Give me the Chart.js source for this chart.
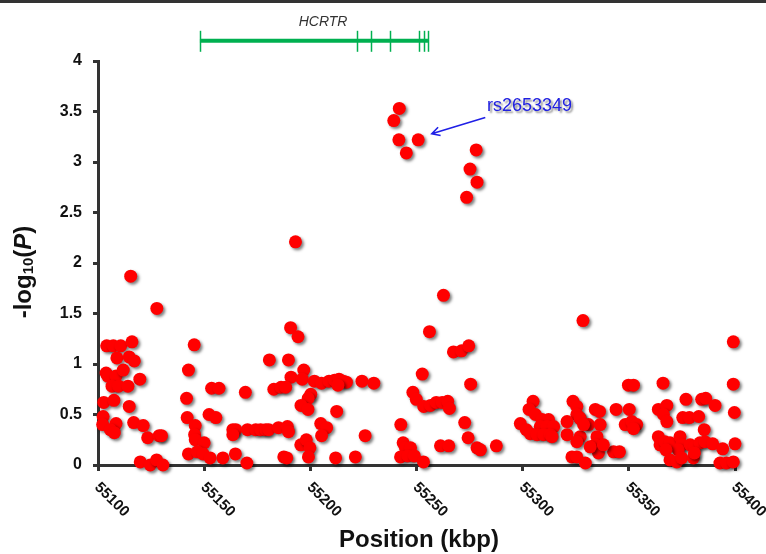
<!DOCTYPE html>
<html>
<head>
<meta charset="utf-8">
<script src="https://cdn.jsdelivr.net/npm/chart.js@4"></script>
<style>
  html, body { margin: 0; padding: 0; background: #fff; }
  #wrap { width: 766px; height: 554px; position: relative; }
</style>
</head>
<body>
<div id="wrap"><canvas id="assocChart" width="766" height="554"></canvas></div>
<script>
// 位置 (kbp)
const positionKbp = [
  55115.4, 55127.7, 55104.1, 55107.2, 55110.7, 55116.0, 55108.9, 55114.7, 55117.1, 55103.8,
  55104.6, 55108.5, 55111.9, 55119.7, 55106.6, 55109.7, 55114.1, 55102.7, 55107.5, 55114.7,
  55102.4, 55102.2, 55108.5, 55105.8, 55107.7, 55116.8, 55121.3, 55123.4, 55128.8, 55129.9,
  55119.9, 55124.6, 55127.6, 55130.6, 55145.3, 55142.6, 55141.7, 55142.0, 55145.8, 55145.5,
  55145.8, 55150.0, 55142.6, 55146.8, 55149.5, 55152.8, 55153.5, 55157.0, 55152.3, 55155.5,
  55193.0, 55190.7, 55194.2, 55180.7, 55189.7, 55196.9, 55190.9, 55196.2, 55169.4, 55182.8,
  55186.2, 55188.4, 55201.9, 55205.3, 55208.8, 55211.4, 55213.5, 55200.2, 55199.0, 55195.6,
  55198.9, 55212.4, 55163.5, 55164.9, 55163.5, 55170.4, 55174.3, 55176.6, 55179.0, 55180.4,
  55185.0, 55189.2, 55189.7, 55204.9, 55207.7, 55205.3, 55195.5, 55198.1, 55199.8, 55199.1,
  55158.8, 55164.7, 55170.1, 55187.5, 55188.9, 55211.9,
  55241.9, 55239.3, 55241.7, 55250.8, 55245.2, 55278.1, 55275.2, 55278.5, 55273.6, 55262.7,
  55256.1, 55267.4, 55271.2, 55274.6, 55252.7, 55275.5, 55215.5, 55217.0, 55213.0, 55224.3,
  55229.9, 55248.3, 55249.9, 55253.4, 55256.6, 55259.3, 55262.1, 55264.7, 55265.5, 55272.7,
  55274.3, 55242.6, 55225.8, 55243.7, 55244.8, 55247.2, 55242.5, 55245.9, 55249.0, 55253.3,
  55261.3, 55265.2, 55278.5, 55280.1, 55221.2, 55287.6,
  55328.4, 55399.2, 55349.8, 55352.2, 55366.1, 55399.2, 55304.9, 55323.7, 55325.5, 55376.9,
  55384.3, 55386.2, 55390.6, 55399.7, 55303.0, 55306.0, 55325.5, 55326.8, 55334.2, 55336.2,
  55344.0, 55350.2, 55363.9, 55367.9, 55366.3, 55375.4, 55378.5, 55382.9, 55367.9, 55298.9,
  55301.7, 55309.1, 55312.2, 55308.3, 55311.5, 55314.6, 55303.6, 55306.8, 55309.9, 55313.0,
  55313.8, 55320.9, 55327.1, 55331.0, 55336.5, 55348.3, 55351.4, 55353.7, 55352.2, 55385.5,
  55320.9, 55327.1, 55325.5, 55335.0, 55334.2, 55335.7, 55331.8, 55363.9, 55364.7, 55367.0,
  55369.4, 55374.1, 55374.9, 55373.3, 55378.9, 55380.9, 55383.5, 55385.9, 55389.5, 55394.2,
  55400.0, 55367.5, 55369.4, 55372.6, 55374.9, 55380.4, 55380.9, 55392.9, 55396.0, 55399.2,
  55342.8, 55345.6, 55323.2, 55325.5, 55329.5, 55328.7, 55338.0
];
// -log10(P)
const negLogP = [
  1.87, 1.55, 1.18, 1.18, 1.18, 1.22, 1.06, 1.07, 1.03, 0.91,
  0.88, 0.88, 0.94, 0.85, 0.78, 0.78, 0.78, 0.62, 0.64, 0.58,
  0.48, 0.40, 0.41, 0.35, 0.32, 0.42, 0.39, 0.27, 0.29, 0.29,
  0.03, 0.00, 0.05, 0.00, 1.19, 0.94, 0.66, 0.47, 0.39, 0.30,
  0.25, 0.22, 0.11, 0.13, 0.11, 0.07, 0.76, 0.76, 0.50, 0.47,
  2.21, 1.36, 1.27, 1.04, 1.04, 0.94, 0.87, 0.85, 0.72, 0.75,
  0.77, 0.77, 0.83, 0.81, 0.83, 0.84, 0.85, 0.70, 0.66, 0.59,
  0.55, 0.53, 0.35, 0.35, 0.30, 0.35, 0.35, 0.35, 0.35, 0.35,
  0.37, 0.38, 0.33, 0.41, 0.37, 0.29, 0.20, 0.25, 0.17, 0.08,
  0.07, 0.11, 0.02, 0.08, 0.07, 0.07,
  3.53, 3.41, 3.22, 3.22, 3.09, 3.12, 2.93, 2.80, 2.65, 1.68,
  1.32, 1.12, 1.13, 1.18, 0.90, 0.80, 0.83, 0.82, 0.79, 0.83,
  0.81, 0.72, 0.65, 0.58, 0.59, 0.62, 0.62, 0.63, 0.56, 0.42,
  0.27, 0.40, 0.29, 0.22, 0.17, 0.17, 0.08, 0.09, 0.09, 0.03,
  0.19, 0.19, 0.17, 0.15, 0.08, 0.19,
  1.43, 1.22, 0.79, 0.79, 0.81, 0.80, 0.63, 0.63, 0.58, 0.65,
  0.65, 0.66, 0.59, 0.52, 0.55, 0.50, 0.50, 0.47, 0.55, 0.53,
  0.55, 0.55, 0.55, 0.59, 0.50, 0.47, 0.47, 0.48, 0.43, 0.41,
  0.35, 0.45, 0.45, 0.38, 0.38, 0.38, 0.31, 0.30, 0.30, 0.30,
  0.28, 0.43, 0.46, 0.40, 0.40, 0.40, 0.43, 0.40, 0.36, 0.35,
  0.30, 0.28, 0.23, 0.28, 0.20, 0.12, 0.18, 0.28, 0.20, 0.23,
  0.22, 0.28, 0.20, 0.15, 0.20, 0.18, 0.22, 0.23, 0.21, 0.16,
  0.21, 0.15, 0.05, 0.03, 0.07, 0.07, 0.12, 0.02, 0.02, 0.03,
  0.13, 0.13, 0.08, 0.08, 0.02, 0.40, 0.20
];
const xTicks = [55100, 55150, 55200, 55250, 55300, 55350, 55400];
const yTicks = [0, 0.5, 1, 1.5, 2, 2.5, 3, 3.5, 4];

// 遺伝子 HCRTR (kbp)
const geneName = 'HCRTR';
const geneStart = 55148;
const geneEnd = 55255.4;
const geneMarks = [55148, 55221.8, 55228.4, 55237.3, 55251, 55253.3, 55255.4];
const geneLevel = 4.2;

// 注目SNP
const snpLabel = 'rs2653349';
const snpArrowFrom = [55282.4, 3.44];
const snpArrowTo = [55257.2, 3.28];

const FONT = '"Liberation Sans", Arial, Helvetica, sans-serif';
const points = positionKbp.map((x, i) => ({ x: x, y: negLogP[i] }));

// 点の影
const shadowPlugin = {
  id: 'shadow',
  beforeDatasetsDraw(chart) {
    const ctx = chart.ctx;
    ctx.save();
    ctx.shadowColor = 'rgba(0,0,0,0.5)';
    ctx.shadowOffsetX = 2;
    ctx.shadowOffsetY = 2;
    ctx.shadowBlur = 3;
  },
  afterDatasetsDraw(chart) {
    chart.ctx.restore();
  }
};

// 軸ラベル・注釈
const decorPlugin = {
  id: 'decor',
  afterDraw(chart) {
    const ctx = chart.ctx;
    const xs = chart.scales.x;
    const ys = chart.scales.y;

    // 上の枠線
    ctx.save();
    ctx.fillStyle = '#333';
    ctx.fillRect(0, 0, chart.width, 3);

    // x 目盛ラベル (斜め)
    ctx.fillStyle = '#111';
    ctx.font = 'bold 15px ' + FONT;
    ctx.textAlign = 'left';
    ctx.textBaseline = 'middle';
    xTicks.forEach(v => {
      const px = xs.getPixelForValue(v);
      ctx.save();
      ctx.translate(px - 1, ys.bottom + 20);
      ctx.rotate(Math.PI / 4);
      ctx.fillText(String(v), 0, 0);
      ctx.restore();
    });

    // x タイトル
    ctx.font = 'bold 24px ' + FONT;
    ctx.textAlign = 'center';
    ctx.textBaseline = 'middle';
    ctx.fillText('Position (kbp)', 419, 540);

    // y タイトル -log10(P)
    ctx.save();
    ctx.translate(24, 272);
    ctx.rotate(-Math.PI / 2);
    const parts = [
      { t: '-log', f: 'bold 24px ' + FONT, dy: 0 },
      { t: '10', f: 'bold 15px ' + FONT, dy: 5 },
      { t: '(', f: 'bold 24px ' + FONT, dy: 0 },
      { t: 'P', f: 'italic bold 24px ' + FONT, dy: 0 },
      { t: ')', f: 'bold 24px ' + FONT, dy: 0 }
    ];
    let total = 0;
    parts.forEach(p => { ctx.font = p.f; p.w = ctx.measureText(p.t).width; total += p.w; });
    let cx = -total / 2;
    ctx.textAlign = 'left';
    parts.forEach(p => {
      ctx.font = p.f;
      ctx.fillText(p.t, cx, p.dy);
      cx += p.w;
    });
    ctx.restore();

    // 遺伝子
    const gy = ys.getPixelForValue(geneLevel);
    ctx.strokeStyle = '#00b050';
    ctx.lineWidth = 4;
    ctx.beginPath();
    ctx.moveTo(xs.getPixelForValue(geneStart), gy);
    ctx.lineTo(xs.getPixelForValue(geneEnd), gy);
    ctx.stroke();
    ctx.lineWidth = 1.5;
    geneMarks.forEach(v => {
      const px = Math.round(xs.getPixelForValue(v)) + 0.5;
      ctx.beginPath();
      ctx.moveTo(px, gy - 10);
      ctx.lineTo(px, gy + 11);
      ctx.stroke();
    });
    ctx.fillStyle = '#333';
    ctx.font = 'italic 14px ' + FONT;
    ctx.textAlign = 'center';
    ctx.fillText(geneName, xs.getPixelForValue(55206), gy - 19);

    // SNP ラベルと矢印
    const ax0 = xs.getPixelForValue(snpArrowFrom[0]);
    const ay0 = ys.getPixelForValue(snpArrowFrom[1]);
    const ax1 = xs.getPixelForValue(snpArrowTo[0]);
    const ay1 = ys.getPixelForValue(snpArrowTo[1]);
    ctx.strokeStyle = '#1f1fe6';
    ctx.lineWidth = 1.6;
    ctx.beginPath();
    ctx.moveTo(ax0, ay0);
    ctx.lineTo(ax1, ay1);
    const ang = Math.atan2(ay1 - ay0, ax1 - ax0);
    ctx.moveTo(ax1 + 9 * Math.cos(ang + Math.PI - 0.5), ay1 + 9 * Math.sin(ang + Math.PI - 0.5));
    ctx.lineTo(ax1, ay1);
    ctx.lineTo(ax1 + 9 * Math.cos(ang + Math.PI + 0.5), ay1 + 9 * Math.sin(ang + Math.PI + 0.5));
    ctx.stroke();

    ctx.shadowColor = 'rgba(0,0,0,0.45)';
    ctx.shadowOffsetX = 2;
    ctx.shadowOffsetY = 2;
    ctx.shadowBlur = 2;
    ctx.fillStyle = '#2020e0';
    ctx.font = '18px ' + FONT;
    ctx.textAlign = 'left';
    ctx.textBaseline = 'middle';
    ctx.fillText(snpLabel, 487, 106);
    ctx.restore();
  }
};

new Chart(document.getElementById('assocChart'), {
  type: 'scatter',
  data: {
    datasets: [{
      data: points,
      pointRadius: 6.5,
      pointHoverRadius: 6.5,
      pointBackgroundColor: '#ff0000',
      pointBorderWidth: 0,
      borderWidth: 0,
      clip: false
    }]
  },
  options: {
    responsive: false,
    animation: false,
    devicePixelRatio: 1,
    layout: { padding: { top: 61, right: 31, left: 0, bottom: 0 } },
    plugins: {
      legend: { display: false },
      tooltip: { enabled: false }
    },
    scales: {
      x: {
        type: 'linear',
        min: 55100,
        max: 55400,
        afterFit: s => { s.height = 89; },
        afterBuildTicks: s => { s.ticks = xTicks.map(v => ({ value: v })); },
        ticks: { display: false },
        grid: { display: true, drawOnChartArea: false, drawTicks: true, tickLength: 6, color: '#333', lineWidth: 3 },
        border: { display: true, color: '#333', width: 3 }
      },
      y: {
        min: 0,
        max: 4,
        afterFit: s => { s.width = 98; },
        afterBuildTicks: s => { s.ticks = yTicks.map(v => ({ value: v })); },
        ticks: {
          color: '#111',
          padding: 11,
          font: { family: FONT, size: 16, weight: 'bold' },
          callback: v => String(v)
        },
        grid: { display: true, drawOnChartArea: false, drawTicks: true, tickLength: 5, color: '#333', lineWidth: 3 },
        border: { display: true, color: '#333', width: 3 }
      }
    }
  },
  plugins: [shadowPlugin, decorPlugin]
});
</script>
</body>
</html>
